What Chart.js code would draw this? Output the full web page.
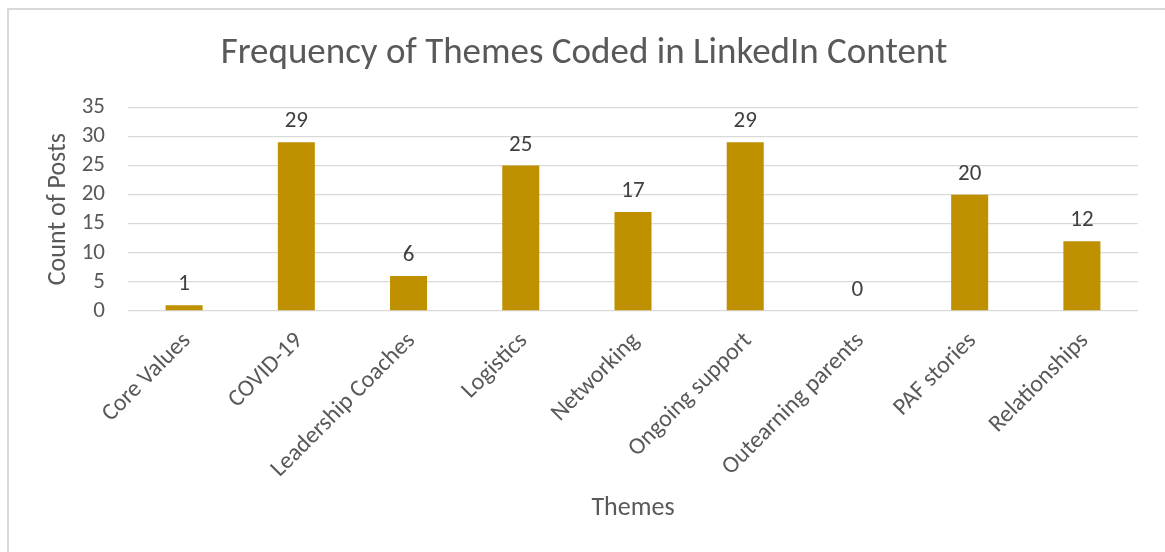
<!DOCTYPE html>
<html>
<head>
<meta charset="utf-8">
<script src="https://cdn.jsdelivr.net/npm/chart.js@4"></script>
<style>
  html, body { margin: 0; padding: 0; background: #fff; overflow: hidden; }
  #wrap { position: relative; width: 1165px; height: 552px; }
  #frame { position: absolute; left: 7px; top: 8px; width: 1300px; height: 700px; border: 2px solid #d9d9d9; box-sizing: border-box; }
  canvas { position: absolute; left: 0; top: 0; }
</style>
</head>
<body>
<div id="wrap">
  <div id="frame"></div>
  <canvas id="c" width="1165" height="552"></canvas>
</div>
<script>
const categories = ["Core Values", "COVID-19", "Leadership Coaches", "Logistics", "Networking", "Ongoing support", "Outearning parents", "PAF stories", "Relationships"];
const counts = [1, 29, 6, 25, 17, 29, 0, 20, 12];
const yTicks = [0, 5, 10, 15, 20, 25, 30, 35];

const FONT = "Carlito, Calibri, 'Open Sans', sans-serif";
const TXT = "#595959";

const dataLabels = {
  id: 'dataLabels',
  afterDatasetsDraw(chart) {
    const ctx = chart.ctx;
    const meta = chart.getDatasetMeta(0);
    ctx.save();
    ctx.font = "23px " + FONT;
    ctx.fillStyle = "#404040";
    ctx.textAlign = "center";
    ctx.textBaseline = "alphabetic";
    meta.data.forEach((bar, i) => {
      ctx.fillText(String(counts[i]), bar.x, bar.y - 15);
    });
    ctx.restore();
  }
};

new Chart(document.getElementById('c'), {
  type: 'bar',
  data: {
    labels: categories,
    datasets: [{
      data: counts,
      backgroundColor: "#BF9000",
      borderWidth: 0,
      barPercentage: 0.66,
      categoryPercentage: 0.5
    }]
  },
  options: {
    responsive: false,
    animation: false,
    layout: { padding: { left: 30, right: 27, top: 8, bottom: 0 } },
    plugins: {
      legend: { display: false },
      tooltip: { enabled: false },
      title: {
        display: true,
        text: "Frequency of Themes Coded in LinkedIn Content",
        color: TXT,
        font: { family: FONT, size: 37, weight: 'normal' },
        padding: { top: 24, bottom: 31 }
      }
    },
    scales: {
      x: {
        grid: { display: false, drawTicks: false },
        border: { display: false },
        ticks: {
          color: TXT,
          font: { family: FONT, size: 24 },
          minRotation: 45,
          maxRotation: 45,
          padding: 16,
          labelOffset: 3,
          autoSkip: false
        },
        title: {
          display: true,
          text: "Themes",
          color: TXT,
          font: { family: FONT, size: 26 },
          padding: { top: 4, bottom: 28 }
        },
        afterFit(scale) { scale.height = 241; }
      },
      y: {
        min: 0,
        max: 35,
        afterBuildTicks(scale) { scale.ticks = yTicks.map(v => ({ value: v })); },
        grid: { color: "#d9d9d9", lineWidth: 1.3, drawTicks: false },
        border: { display: false },
        ticks: {
          color: TXT,
          font: { family: FONT, size: 23 },
          padding: 23,
          autoSkip: false
        },
        title: {
          display: true,
          text: "Count of Posts",
          color: TXT,
          font: { family: FONT, size: 26 },
          padding: { top: 13, bottom: 0 }
        },
        afterFit(scale) { scale.width = 98; }
      }
    }
  },
  plugins: [dataLabels]
});
</script>
</body>
</html>
